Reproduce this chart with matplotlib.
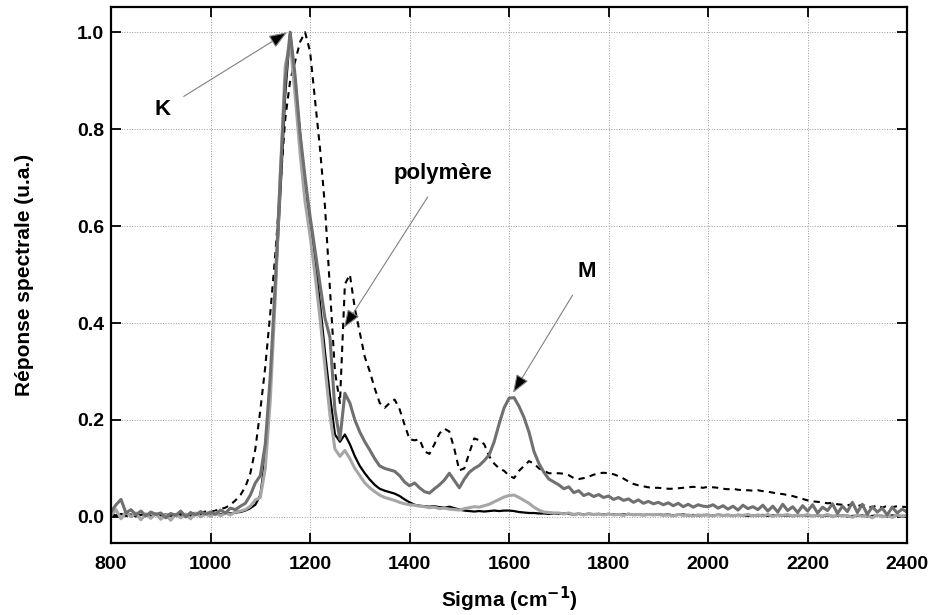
import numpy as np
import matplotlib
matplotlib.use("Agg")
import matplotlib.pyplot as plt

plt.rcParams["font.family"] = ["Liberation Sans", "DejaVu Sans"]
plt.rcParams["font.weight"] = "bold"

# wavenumber grid (cm-1), 10 cm-1 step
sigma = np.arange(800, 2401, 10)

# black solid spectrum
ref_black = [
    0.004, 0.002, 0.006, 0.003, 0.005, 0.001, 0.004, 0.006, 0.002, 0.004,
    0.003, 0.005, 0.002, 0.006, 0.003, 0.004, 0.002, 0.005, 0.004, 0.006,
    0.004, 0.007, 0.005, 0.008, 0.007, 0.009, 0.010, 0.013, 0.018, 0.025,
    0.045, 0.12, 0.27, 0.46, 0.66, 0.87, 1.0, 0.90, 0.79, 0.69,
    0.61, 0.53, 0.44, 0.34, 0.25, 0.17, 0.155, 0.17, 0.15, 0.125,
    0.105, 0.09, 0.077, 0.066, 0.058, 0.054, 0.051, 0.048, 0.043, 0.036,
    0.030, 0.025, 0.023, 0.022, 0.021, 0.022, 0.020, 0.019, 0.021, 0.018,
    0.015, 0.013, 0.012, 0.011, 0.012, 0.011, 0.012, 0.013, 0.012, 0.013,
    0.013, 0.012, 0.010, 0.009, 0.008, 0.008, 0.007, 0.007, 0.006, 0.007,
    0.006, 0.007, 0.006, 0.005, 0.006, 0.005, 0.006, 0.005, 0.006, 0.005,
    0.006, 0.005, 0.004, 0.005, 0.006, 0.004, 0.005, 0.004, 0.005, 0.004,
    0.005, 0.004, 0.005, 0.003, 0.004, 0.005, 0.003, 0.004, 0.003, 0.004,
    0.004, 0.003, 0.004, 0.003, 0.004, 0.002, 0.004, 0.003, 0.002, 0.003,
    0.003, 0.004, 0.002, 0.003, 0.004, 0.002, 0.003, 0.002, 0.003, 0.002,
    0.003, 0.002, 0.003, 0.001, 0.003, 0.002, 0.002, 0.003, 0.001, 0.002,
    0.002, 0.003, 0.001, 0.002, 0.003, 0.002, 0.001, 0.003, 0.002, 0.002,
    0.002,
]

# dark grey spectrum (with M band)
ref_dark = [
    0.010, 0.025, 0.036, 0.008, 0.015, 0.004, 0.012, 0.002, 0.010, 0.005,
    0.008, -0.002, 0.007, 0.003, 0.012, 0.000, 0.009, 0.004, 0.011, 0.006,
    0.010, 0.005, 0.014, 0.008, 0.018, 0.015, 0.022, 0.028, 0.045, 0.070,
    0.085, 0.15, 0.29, 0.48, 0.70, 0.90, 1.0, 0.91, 0.79, 0.70,
    0.62, 0.55, 0.48, 0.41, 0.37, 0.22, 0.16, 0.255, 0.235, 0.20,
    0.175, 0.155, 0.138, 0.12, 0.105, 0.10, 0.097, 0.094, 0.085, 0.072,
    0.064, 0.070, 0.060, 0.052, 0.049, 0.058, 0.066, 0.076, 0.090, 0.075,
    0.060, 0.078, 0.092, 0.100, 0.106, 0.116, 0.128, 0.155, 0.192, 0.225,
    0.245, 0.246, 0.228, 0.205, 0.175, 0.135, 0.110, 0.092, 0.078, 0.072,
    0.066, 0.058, 0.062, 0.050, 0.054, 0.044, 0.048, 0.042, 0.046, 0.040,
    0.043, 0.036, 0.040, 0.034, 0.037, 0.030, 0.035, 0.028, 0.032, 0.027,
    0.030, 0.025, 0.029, 0.023, 0.028, 0.021, 0.026, 0.020, 0.025, 0.022,
    0.021, 0.025, 0.018, 0.023, 0.016, 0.022, 0.014, 0.024, 0.017, 0.021,
    0.015, 0.024, 0.012, 0.022, 0.010, 0.026, 0.013, 0.021, 0.009, 0.023,
    0.012, 0.025, 0.008, 0.020, 0.013, 0.027, 0.007, 0.022, 0.011, 0.030,
    0.009, 0.026, 0.005, 0.021, 0.010, 0.018, 0.004, 0.020, 0.008, 0.016,
    0.010,
]

# light grey spectrum
ref_light = [
    0.003, 0.015, -0.004, 0.010, 0.000, 0.008, -0.006, 0.006, -0.003, 0.007,
    -0.005, 0.004, -0.007, 0.005, -0.002, 0.006, -0.004, 0.008, 0.000, 0.006,
    0.001, 0.009, 0.002, 0.008, 0.004, 0.010, 0.012, 0.015, 0.022, 0.035,
    0.040, 0.10, 0.24, 0.45, 0.70, 0.93, 0.98, 0.87, 0.75, 0.65,
    0.58, 0.50, 0.41, 0.31, 0.21, 0.14, 0.125, 0.137, 0.12, 0.10,
    0.085, 0.070, 0.060, 0.052, 0.045, 0.040, 0.037, 0.034, 0.030, 0.027,
    0.025, 0.024, 0.022, 0.021, 0.019, 0.020, 0.017, 0.018, 0.016, 0.015,
    0.014, 0.017, 0.019, 0.021, 0.020, 0.023, 0.026, 0.031, 0.036, 0.041,
    0.044, 0.045, 0.040, 0.034, 0.028, 0.020, 0.014, 0.010, 0.009, 0.008,
    0.008, 0.006, 0.008, 0.005, 0.007, 0.004, 0.007, 0.005, 0.006, 0.004,
    0.006, 0.004, 0.005, 0.003, 0.006, 0.004, 0.005, 0.003, 0.005, 0.004,
    0.005, 0.003, 0.004, 0.002, 0.005, 0.003, 0.004, 0.002, 0.004, 0.003,
    0.004, 0.002, 0.005, 0.003, 0.004, 0.002, 0.004, 0.003, 0.005, 0.002,
    0.004, 0.002, 0.005, 0.001, 0.004, 0.003, 0.005, 0.001, 0.004, 0.002,
    0.005, 0.001, 0.004, 0.002, 0.005, 0.000, 0.004, 0.002, 0.003, -0.001,
    0.004, 0.001, 0.003, -0.002, 0.004, 0.000, 0.003, -0.001, 0.004, 0.001,
    0.003,
]

# dashed spectrum (polymer)
ref_dashed = [
    0.005, 0.003, 0.006, 0.002, 0.004, 0.006, 0.003, 0.005, 0.002, 0.004,
    0.005, 0.003, 0.006, 0.004, 0.007, 0.005, 0.008, 0.006, 0.009, 0.011,
    0.010, 0.013, 0.016, 0.019, 0.025, 0.034, 0.045, 0.062, 0.090, 0.14,
    0.22, 0.31, 0.42, 0.54, 0.68, 0.82, 0.90, 0.94, 0.98, 1.0,
    0.96, 0.86, 0.76, 0.64, 0.47, 0.30, 0.235, 0.48, 0.50, 0.43,
    0.38, 0.33, 0.30, 0.265, 0.235, 0.225, 0.235, 0.242, 0.222, 0.19,
    0.160, 0.158, 0.160, 0.135, 0.130, 0.150, 0.172, 0.182, 0.176, 0.140,
    0.096, 0.100, 0.132, 0.162, 0.158, 0.150, 0.125, 0.110, 0.100, 0.095,
    0.085, 0.080, 0.095, 0.105, 0.115, 0.110, 0.100, 0.095, 0.090, 0.090,
    0.090, 0.089, 0.086, 0.080, 0.078, 0.080, 0.083, 0.087, 0.090, 0.091,
    0.090, 0.088, 0.084, 0.079, 0.073, 0.068, 0.065, 0.063, 0.061, 0.060,
    0.060, 0.059, 0.058, 0.058, 0.059, 0.060, 0.061, 0.062, 0.061, 0.060,
    0.062, 0.061, 0.060, 0.058, 0.057, 0.058, 0.056, 0.055, 0.055, 0.054,
    0.055, 0.053, 0.052, 0.050, 0.048, 0.047, 0.045, 0.043, 0.040, 0.037,
    0.034, 0.032, 0.031, 0.030, 0.028, 0.029, 0.026, 0.025, 0.024, 0.026,
    0.022, 0.025, 0.021, 0.020, 0.024, 0.019, 0.023, 0.020, 0.022, 0.021,
    0.020,
]

x_ticks = [800, 1000, 1200, 1400, 1600, 1800, 2000, 2200, 2400]
y_ticks = [0.0, 0.2, 0.4, 0.6, 0.8, 1.0]

# (label, text position, arrow tip)
annotations = [
    ("K", (903, 0.84), (1154, 1.0)),
    ("polymère", (1467, 0.709), (1268, 0.39)),
    ("M", (1757, 0.507), (1608, 0.256)),
]

fig = plt.figure(figsize=(9.3, 6.15), dpi=100)
ax = fig.add_axes([0.1194, 0.117, 0.856, 0.8716])

ax.plot(sigma, ref_dashed, color="black", lw=1.5, ls=(0, (3, 2.5)))
ax.plot(sigma, ref_black, color="black", lw=1.6)
ax.plot(sigma, ref_light, color="#a6a6a6", lw=2.2)
ax.plot(sigma, ref_dark, color="#707070", lw=2.2)

ax.set_xlim(800, 2400)
ax.set_ylim(-0.054, 1.052)
ax.set_xticks(x_ticks)
ax.set_yticks(y_ticks)
ax.set_yticklabels([f"{v:.1f}" for v in y_ticks])
ax.grid(True, color="#9a9a9a", ls=":", lw=0.7)
ax.tick_params(direction="in", length=7, width=1.3, top=True, right=True,
               labelsize=14, pad=5)
ax.tick_params(axis="x", pad=9)
for s in ax.spines.values():
    s.set_linewidth(1.6)

ax.set_xlabel("Sigma (cm$^{\\mathbf{-1}}$)", fontsize=15, fontweight="bold", labelpad=9)
ax.set_ylabel("Réponse spectrale (u.a.)", fontsize=15, fontweight="bold", labelpad=31)

for label, txt, tip in annotations:
    ax.annotate(label, xy=tip, xytext=txt, ha="center", va="center",
                fontsize=16, fontweight="bold",
                arrowprops=dict(arrowstyle="-|>,head_length=0.8,head_width=0.3",
                                fc="black", ec="#808080", lw=0.8,
                                mutation_scale=14, shrinkA=9, shrinkB=0))

fig.savefig("out.png", dpi=100)
